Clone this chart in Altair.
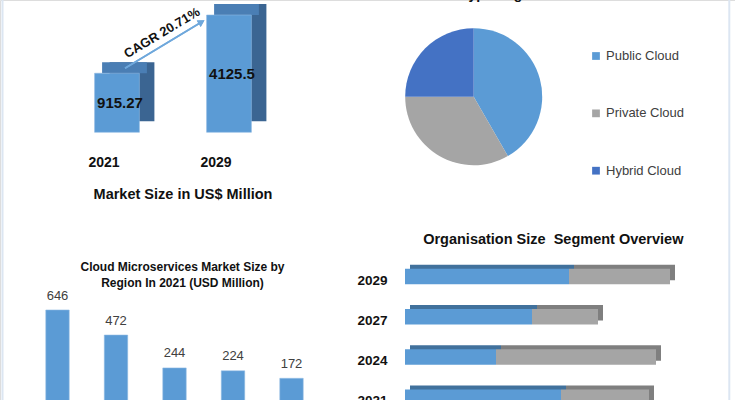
import altair as alt
import pandas as pd

FONT = "Lato"

# ---------------- data ----------------
# Panel A: market size
years_a = ["2021", "2029"]
market_size = [915.27, 4125.5]
market_labels = ["915.27", "4125.5"]
cagr_text = "CAGR 20.71%"

# Panel B: deployment type share
deploy_types = ["Public Cloud", "Private Cloud", "Hybrid Cloud"]
deploy_share = [41.7, 33.3, 25.0]
deploy_colors = ["#5B9BD5", "#A5A5A5", "#4472C4"]

# Panel C: region
regions = ["North America", "Europe", "Asia Pacific", "Middle East and Africa", "South America"]
region_values = [646, 472, 244, 224, 172]

# Panel D: organisation size
org_years = ["2029", "2027", "2024", "2021"]
org_large = [164, 127, 91, 156]
org_sme = [101, 66, 160, 88]

BLUE = "#5B9BD5"

# ---------------- panel A ----------------
dfA = pd.DataFrame({"year": years_a, "value": market_size, "label": market_labels})
xA = alt.X("year:N", axis=None,
           scale=alt.Scale(domain=years_a, range=[61, 285], paddingInner=0.6, paddingOuter=0.3))
yA = alt.Y("value:Q", axis=None,
           scale=alt.Scale(type="pow", exponent=0.456, domain=[0, 4125.5],
                           range=[132.3, 15], nice=False, zero=True))
baseA = alt.Chart(dfA)
sideA = baseA.mark_bar(color="#3B6592", xOffset=15, x2Offset=15, yOffset=-11, y2Offset=-11).encode(x=xA, y=yA)
topA = baseA.mark_bar(color="#4A7EB4", xOffset=7.5, x2Offset=7.5, yOffset=-11, y2Offset=0).encode(
    x=xA, y=yA, y2=alt.Y2("value:Q"))
frontA = baseA.mark_bar(color=BLUE, stroke="#8DB8E2", strokeWidth=0.6).encode(x=xA, y=yA)
labA = baseA.transform_calculate(mid="datum.value * pow(0.5, 1/0.456)").mark_text(
    fontWeight="bold", fontSize=15, dx=3, color="#111111", baseline="middle").encode(
    x=xA, y=alt.Y("mid:Q", axis=None), text="label:N")
yearA = baseA.mark_text(fontWeight="bold", fontSize=14, dx=-13, dy=31, color="#111111",
                        baseline="middle").encode(x=xA, y=alt.datum(0), text="year:N")
titleA = alt.Chart(pd.DataFrame({"t": ["Market Size in US$ Million"]})).mark_text(
    fontWeight="bold", fontSize=14.5, color="#111111", baseline="middle").encode(
    x=alt.value(183), y=alt.value(195), text="t:N")
arrowA = baseA.mark_rule(color="#6FA8DC", strokeWidth=1.5, xOffset=8, x2Offset=-27.4,
                         yOffset=-5, y2Offset=7).encode(
    x=alt.datum("2021"), x2=alt.datum("2029"), y=alt.datum(915.27), y2=alt.datum(4125.5))
headA = baseA.mark_point(shape="triangle-up", filled=True, size=60, angle=59, opacity=1,
                         color="#6FA8DC", xOffset=-27.4, yOffset=7).encode(
    x=alt.datum("2029"), y=alt.datum(4125.5))
cagrA = alt.Chart(pd.DataFrame({"t": [cagr_text]})).mark_text(
    fontWeight="bold", fontSize=13, angle=329, color="#111111", baseline="middle").encode(
    x=alt.value(162), y=alt.value(33), text="t:N")
panelA = alt.layer(sideA, topA, frontA, labA, yearA, titleA, arrowA, headA, cagrA)

# ---------------- panel B ----------------
dfB = pd.DataFrame({"type": deploy_types, "share": deploy_share, "color": deploy_colors,
                    "ord": list(range(len(deploy_types)))})
pie = alt.Chart(dfB).mark_arc(radius=68.5).encode(
    theta=alt.Theta("share:Q", stack=True),
    color=alt.Color("color:N", scale=None),
    order=alt.Order("ord:Q"),
    x=alt.value(473.7), y=alt.value(96.7))
yLeg = alt.Y("type:N", axis=None,
             scale=alt.Scale(type="point", domain=deploy_types, range=[56, 170.7], padding=0))
legSq = alt.Chart(dfB).mark_square(size=60, opacity=1).encode(
    x=alt.value(596), y=yLeg, color=alt.Color("color:N", scale=None))
legTx = alt.Chart(dfB).mark_text(align="left", baseline="middle", fontSize=13, color="#404040").encode(
    x=alt.value(606), y=yLeg, text="type:N")
titleB = alt.Chart(pd.DataFrame({"t": ["Type Segment Overview"]})).mark_text(
    fontWeight="bold", fontSize=14, align="left", baseline="alphabetic", color="#111111").encode(
    x=alt.value(461), y=alt.value(-1), text="t:N")
panelB = alt.layer(pie, legSq, legTx, titleB)

# ---------------- panel C ----------------
dfC = pd.DataFrame({"region": regions, "value": region_values})
xC = alt.X("region:N", axis=None,
           scale=alt.Scale(domain=regions, range=[28.25, 320.75], paddingInner=0.6, paddingOuter=0.3))
yC = alt.Y("value:Q", axis=None,
           scale=alt.Scale(domain=[0, 646], range=[403.1, 310], nice=False, zero=True))
barsC = alt.Chart(dfC).mark_bar(color=BLUE, stroke="#8DB8E2", strokeWidth=0.6).encode(x=xC, y=yC)
labC = alt.Chart(dfC).mark_text(fontSize=13, dy=-14.5, baseline="middle", color="#404040").encode(
    x=xC, y=yC, text="value:Q")
titleC = alt.Chart(pd.DataFrame({"t": ["Cloud Microservices Market Size by",
                                       "Region In 2021 (USD Million)"],
                                 "i": [0, 1]})).mark_text(
    fontWeight="bold", fontSize=12, baseline="middle", color="#111111").encode(
    x=alt.value(182.5),
    y=alt.Y("i:O", axis=None, scale=alt.Scale(type="point", domain=[0, 1], range=[266.7, 283.3], padding=0)),
    text="t:N")
panelC = alt.layer(barsC, labC, titleC)

# ---------------- panel D ----------------
rows = []
for yr, a, b in zip(org_years, org_large, org_sme):
    rows.append({"year": yr, "seg": "Large Enterprises", "value": a, "ord": 0,
                 "col": BLUE, "dark": "#41719C"})
    rows.append({"year": yr, "seg": "SMEs", "value": b, "ord": 1,
                 "col": "#A5A5A5", "dark": "#7F7F7F"})
dfD = pd.DataFrame(rows)
yD = alt.Y("year:N", axis=None,
           scale=alt.Scale(domain=org_years, range=[256.4, 417.4], paddingInner=0.61, paddingOuter=0.305))
xD = alt.X("value:Q", stack="zero", axis=None,
           scale=alt.Scale(domain=[0, 300], range=[405, 705], nice=False, zero=True))
backD = alt.Chart(dfD).mark_bar(xOffset=5, x2Offset=5, yOffset=-4, y2Offset=-4).encode(
    x=xD, y=yD, color=alt.Color("dark:N", scale=None), order=alt.Order("ord:Q"))
frontD = alt.Chart(dfD).mark_bar().encode(
    x=xD, y=yD, color=alt.Color("col:N", scale=None), order=alt.Order("ord:Q"))
dfDy = pd.DataFrame({"year": org_years})
yearD = alt.Chart(dfDy).mark_text(fontWeight="bold", fontSize=13.5, align="right", dy=4,
                                  baseline="middle", color="#111111").encode(
    x=alt.value(387.5), y=yD, text="year:N")
titleD = alt.Chart(pd.DataFrame({"t": ["Organisation Size\u00a0 Segment Overview"]})).mark_text(
    fontWeight="bold", fontSize=14.5, baseline="middle", color="#111111").encode(
    x=alt.value(553.3), y=alt.value(240), text="t:N")
panelD = alt.layer(backD, frontD, yearD, titleD)

# ---------------- borders ----------------
dfE = pd.DataFrame({"a": [0]})
borderL = alt.Chart(dfE).mark_rule(color="#DCE6F2", strokeWidth=2).encode(
    x=alt.value(2.5), y=alt.value(0), y2=alt.value(400))
borderR = alt.Chart(dfE).mark_rule(color="#DCE6F2", strokeWidth=2).encode(
    x=alt.value(729.3), y=alt.value(0), y2=alt.value(400))

chart = alt.layer(borderL, borderR, panelA, panelB, panelC, panelD).resolve_scale(
    x="independent", y="independent"
).properties(
    width=735, height=400, padding=0,
    autosize=alt.AutoSizeParams(type="none")
).configure_view(stroke=None).configure_text(font=FONT).configure(background="white")

chart.save("out.html", embed_options={"renderer": "svg", "actions": False})
